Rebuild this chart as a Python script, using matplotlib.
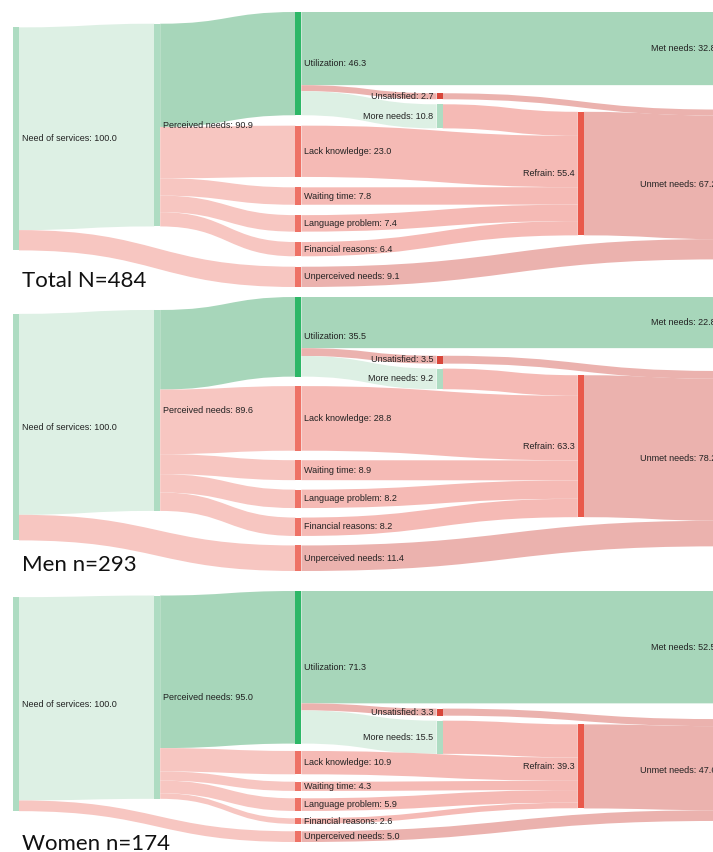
import numpy as np
import matplotlib
matplotlib.use("Agg")
import matplotlib.pyplot as plt
from matplotlib.path import Path
from matplotlib.patches import PathPatch, Rectangle

# ---------------- data ----------------
node_names = ["Need of services", "Perceived needs", "Utilization",
              "Lack knowledge", "Waiting time", "Language problem", "Financial reasons",
              "Unperceived needs", "Unsatisfied", "More needs", "Refrain",
              "Met needs", "Unmet needs"]
node_columns = [0, 1, 2, 2, 2, 2, 2, 2, 3, 3, 4, 5, 5]

link_pairs = [
    ("Need of services", "Perceived needs"),
    ("Need of services", "Unperceived needs"),
    ("Perceived needs", "Utilization"),
    ("Perceived needs", "Lack knowledge"),
    ("Perceived needs", "Waiting time"),
    ("Perceived needs", "Language problem"),
    ("Perceived needs", "Financial reasons"),
    ("Utilization", "Met needs"),
    ("Utilization", "Unsatisfied"),
    ("Utilization", "More needs"),
    ("More needs", "Refrain"),
    ("Lack knowledge", "Refrain"),
    ("Waiting time", "Refrain"),
    ("Language problem", "Refrain"),
    ("Financial reasons", "Refrain"),
    ("Refrain", "Unmet needs"),
    ("Unsatisfied", "Unmet needs"),
    ("Unperceived needs", "Unmet needs"),
]

panel_titles = ["Total N=484", "Men n=293", "Women n=174"]

total_node_values = [100.0, 90.9, 46.3, 23.0, 7.8, 7.4, 6.4, 9.1, 2.7, 10.8, 55.4, 32.8, 67.2]
men_node_values = [100.0, 89.6, 35.5, 28.8, 8.9, 8.2, 8.2, 11.4, 3.5, 9.2, 63.3, 22.8, 78.2]
women_node_values = [100.0, 95.0, 71.3, 10.9, 4.3, 5.9, 2.6, 5.0, 3.3, 15.5, 39.3, 52.5, 47.6]

total_flows = [90.9, 9.1, 46.3, 23.0, 7.8, 7.4, 6.4, 32.8, 2.7, 10.8,
               10.8, 23.0, 7.8, 7.4, 6.4, 55.4, 2.7, 9.1]
men_flows = [89.6, 11.4, 35.5, 28.8, 8.9, 8.2, 8.2, 22.8, 3.5, 9.2,
             9.2, 28.8, 8.9, 8.2, 8.2, 63.3, 3.5, 11.4]
women_flows = [95.0, 5.0, 71.3, 10.9, 4.3, 5.9, 2.6, 52.5, 3.3, 15.5,
               15.5, 10.9, 4.3, 5.9, 2.6, 39.3, 3.3, 5.0]

# ---------------- style ----------------
LG_NODE = "#aedcc2"
DG_NODE = "#2db767"
RED_NODE = "#ee7266"
node_colors = {
    "Need of services": LG_NODE, "Perceived needs": LG_NODE, "More needs": LG_NODE,
    "Utilization": DG_NODE, "Met needs": DG_NODE,
    "Unperceived needs": RED_NODE, "Lack knowledge": RED_NODE, "Waiting time": RED_NODE,
    "Language problem": RED_NODE, "Financial reasons": RED_NODE,
    "Unsatisfied": "#d8463a", "Refrain": "#e9594b", "Unmet needs": "#e9594b",
}
LIGHT_GREEN = "#ddf0e4"
MID_GREEN = "#a7d6ba"
PINK = "#f7c6c1"
PINK2 = "#f5bab5"
PINK3 = "#ebb2ae"
link_colors = [LIGHT_GREEN, PINK, MID_GREEN, PINK, PINK, PINK, PINK,
               MID_GREEN, PINK3, LIGHT_GREEN,
               PINK2, PINK2, PINK2, PINK2, PINK2,
               PINK3, PINK3, PINK3]

W, H = 713, 852
COL_X0, COL_STEP, NODE_W = 13.0, 141.2, 6.0
panel_extents = [(12, 287, 10.4), (297, 571, 9.5), (591, 842, 7.4)]
title_baselines = [287, 571, 850]

idx = {nm: i for i, nm in enumerate(node_names)}
SRC = [idx[a] for a, b in link_pairs]
TGT = [idx[b] for a, b in link_pairs]
COLS = np.asarray(node_columns)


def link_offsets(top, wl):
    n = len(node_names)
    so = np.zeros(len(wl))
    to = np.zeros(len(wl))
    for i in range(n):
        outs = [k for k in range(len(wl)) if SRC[k] == i]
        outs.sort(key=lambda k: (top[TGT[k]], TGT[k]))
        acc = 0.0
        for k in outs:
            so[k] = acc
            acc += wl[k]
        ins = [k for k in range(len(wl)) if TGT[k] == i]
        ins.sort(key=lambda k: (top[SRC[k]], SRC[k]))
        acc = 0.0
        for k in ins:
            to[k] = acc
            acc += wl[k]
    return so, to


def layout(flows, y0, y1, pad, anchor=2, npad=5.0, back_w=0.5, iters=120):
    n = len(node_names)
    v = np.asarray(flows, float)
    inflow = np.zeros(n)
    outflow = np.zeros(n)
    np.add.at(outflow, SRC, v)
    np.add.at(inflow, TGT, v)
    size = np.maximum(inflow, outflow)
    anc = np.where(COLS == anchor)[0]
    ky = (y1 - y0 - (len(anc) - 1) * pad) / size[anc].sum()
    h = size * ky
    wl = v * ky
    top = np.zeros(n)
    for c in sorted(set(node_columns)):
        y = y0
        for i in np.where(COLS == c)[0]:
            top[i] = y
            y += h[i] + (pad if c == anchor else npad)
    free = [i for i in range(n) if COLS[i] != anchor]
    free_cols = sorted(set(COLS[free]))
    for _ in range(iters):
        so, to = link_offsets(top, wl)
        new = top.copy()
        for i in free:
            num = den = 0.0
            for k in range(len(v)):
                if TGT[k] == i:
                    wt = v[k] * (1.0 if COLS[i] > anchor else back_w)
                    num += wt * (top[SRC[k]] + so[k] - to[k])
                    den += wt
                elif SRC[k] == i:
                    wt = v[k] * (1.0 if COLS[i] < anchor else back_w)
                    num += wt * (top[TGT[k]] + to[k] - so[k])
                    den += wt
            if den > 0:
                new[i] = top[i] + 0.5 * (num / den - top[i])
        top = new
        for c in free_cols:
            ids = list(np.where(COLS == c)[0])  # fixed vertical order
            y = y0
            for i in ids:
                if top[i] < y:
                    top[i] = y
                y = top[i] + h[i] + npad
            y = y1
            for i in reversed(ids):
                if top[i] + h[i] > y:
                    top[i] = y - h[i]
                y = top[i] - npad
    so, to = link_offsets(top, wl)
    return top, h, wl, so, to


def band(ax, xa, ya0, ya1, xb, yb0, yb1, color):
    xm = (xa + xb) / 2.0
    verts = [(xa, ya0), (xm, ya0), (xm, yb0), (xb, yb0), (xb, yb1),
             (xm, yb1), (xm, ya1), (xa, ya1), (xa, ya0)]
    codes = [Path.MOVETO, Path.CURVE4, Path.CURVE4, Path.CURVE4, Path.LINETO,
             Path.CURVE4, Path.CURVE4, Path.CURVE4, Path.CLOSEPOLY]
    ax.add_patch(PathPatch(Path(verts, codes), facecolor=color, edgecolor="none", lw=0))


fig = plt.figure(figsize=(W / 100, H / 100), dpi=100)
ax = fig.add_axes([0, 0, 1, 1])
ax.set_xlim(0, W)
ax.set_ylim(H, 0)
ax.axis("off")

panels = [(total_node_values, total_flows), (men_node_values, men_flows),
          (women_node_values, women_flows)]

for p, (vals, flows) in enumerate(panels):
    y0, y1, pad = panel_extents[p]
    top, h, wl, so, to = layout(flows, y0, y1, pad)
    colx = COL_X0 + COLS * COL_STEP
    for k in range(len(flows)):
        s, t = SRC[k], TGT[k]
        xa = colx[s] + NODE_W
        xb = colx[t]
        ya0 = top[s] + so[k]
        yb0 = top[t] + to[k]
        band(ax, xa, ya0, ya0 + wl[k], xb, yb0, yb0 + wl[k], link_colors[k])
    for i, nm in enumerate(node_names):
        ax.add_patch(Rectangle((colx[i], top[i]), NODE_W, h[i],
                               facecolor=node_colors[nm], edgecolor="none"))
        label = f"{nm}: {vals[i]:.1f}"
        yc = top[i] + h[i] / 2
        if COLS[i] < 3:
            ax.text(colx[i] + NODE_W + 3, yc, label, ha="left", va="center",
                    fontsize=6.5, family="Liberation Sans", color="#222222")
        else:
            ax.text(colx[i] - 3, yc, label, ha="right", va="center",
                    fontsize=6.5, family="Liberation Sans", color="#222222")
    ax.text(22, title_baselines[p], panel_titles[p], ha="left", va="baseline",
            fontsize=16.0, family="Lato", color="#111111")

fig.savefig("out.png", dpi=100)
